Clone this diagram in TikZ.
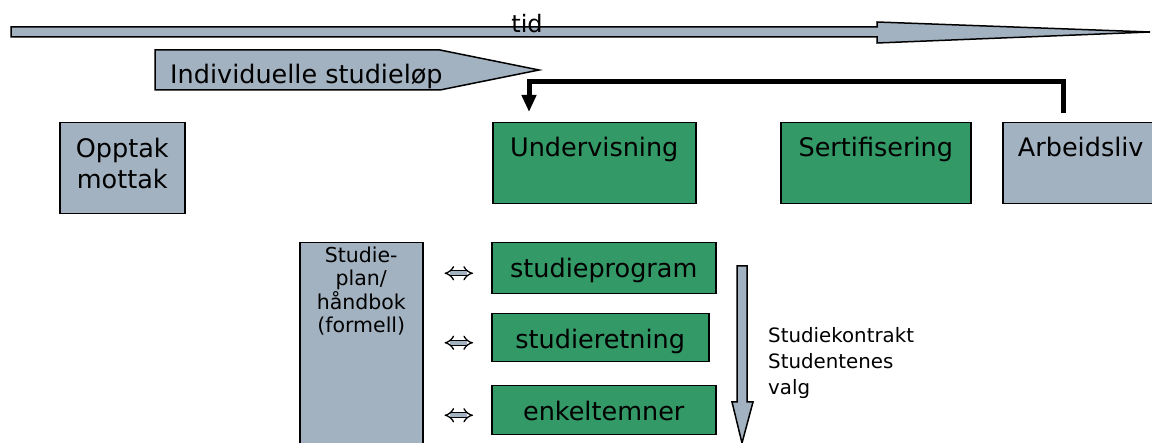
\documentclass[tikz,border=0pt]{standalone}
\usepackage{fontspec}
\setmainfont{DejaVu Sans}
\usetikzlibrary{arrows.meta}

\definecolor{boxgray}{RGB}{163,178,193}
\definecolor{boxgreen}{RGB}{51,153,102}

\begin{document}
\begin{tikzpicture}[
  x=1pt,
  y=-1pt,
  bigtext/.style={font=\fontsize{25.5}{31.5}\selectfont, inner sep=0pt},
  tidtext/.style={font=\fontsize{24}{28}\selectfont, inner sep=0pt},
  plantext/.style={font=\fontsize{20.5}{23.5}\selectfont, align=center, inner sep=0pt},
  sidetext/.style={font=\fontsize{19.8}{26}\selectfont, align=left, inner sep=0pt},
  graybox/.style={draw=black, line width=1.5pt, fill=boxgray, inner sep=0pt, anchor=north west},
  greenbox/.style={draw=black, line width=1.5pt, fill=boxgreen, inner sep=0pt, anchor=north west},
  stagebox/.style={bigtext, text height=34pt, text depth=47pt},
  choicebox/.style={greenbox, bigtext, text height=35pt},
  blockarrow/.style={draw=black, line width=1.5pt, fill=boxgray, line join=miter},
  swaparrow/.style={
    double=boxgray,
    double distance=3.6pt,
    line width=1.3pt,
    {Implies}-{Implies},
    shorten <=21pt,
    shorten >=18pt
  },
  backarrow/.style={line width=5pt, -{Triangle[length=17pt,width=14pt]}}
]

% Canvas, same size as the reference
\useasboundingbox (0,0) rectangle (1152,443);
\clip (0,0) rectangle (1152,443);

% Time arrow
\draw[blockarrow] (11,27) -- (877,27) -- (877,22) -- (1150,32)
  -- (877,43) -- (877,37) -- (11,37) -- cycle;
\node[tidtext, anchor=base] (tid) at (527,33) {tid};

% Individual study path
\draw[blockarrow] (155,50) -- (440,50) -- (539,70) -- (440,90) -- (155,90) -- cycle;
\node[bigtext, anchor=base west] (lopetxt) at (170,84) {Individuelle studieløp};

% Stages
\node[graybox, minimum width=125pt, minimum height=91pt] (opptak) at (59,122) {};
\node[bigtext, align=center, anchor=north] (opptaktxt) at ([yshift=-15.6pt]opptak.north)
  {Opptak\\mottak};

\node[greenbox, stagebox, minimum width=203pt] (under) at (492,122) {Undervisning};
\node[greenbox, stagebox, minimum width=190pt] (sert) at (780,122) {Sertifisering};
\node[graybox, stagebox, minimum width=156pt] (arb) at (1002,122) {Arbeidsliv};

% Feedback from working life
\draw[backarrow] ([xshift=61pt,yshift=9pt]arb.north west) -- ++(0,-31)
  -| ([xshift=37pt,yshift=10pt]under.north west);

% Study plan
\node[graybox, minimum width=123pt, minimum height=210pt] (plan) at (299,242) {};
\node[plantext, anchor=north] (plantxt) at ([yshift=-4.4pt]plan.north)
  {Studie-\\plan/\\håndbok\\(formell)};

% Choices
\node[choicebox, minimum width=224pt, text depth=16pt] (prog) at (491,242) {studieprogram};
\node[choicebox, minimum width=217pt, text depth=13pt] (ret) at (491,313) {studieretning};
\node[choicebox, minimum width=224pt, text depth=14pt] (enkel) at (491,385) {enkeltemner};

\foreach \c in {prog,ret,enkel} {
  \coordinate (\c-in) at ([yshift=-5pt]\c.west);
  \draw[swaparrow] (plan.east |- \c-in) -- (\c-in);
}

% Student choice arrow
\draw[blockarrow] (737,266) -- (747,266) -- (747,402) -- (753,402)
  -- (742,443) -- (732,402) -- (737,402) -- cycle;
\node[sidetext, anchor=north west] (valg) at (768,327)
  {Studiekontrakt\\Studentenes\\valg};

\end{tikzpicture}
\end{document}
